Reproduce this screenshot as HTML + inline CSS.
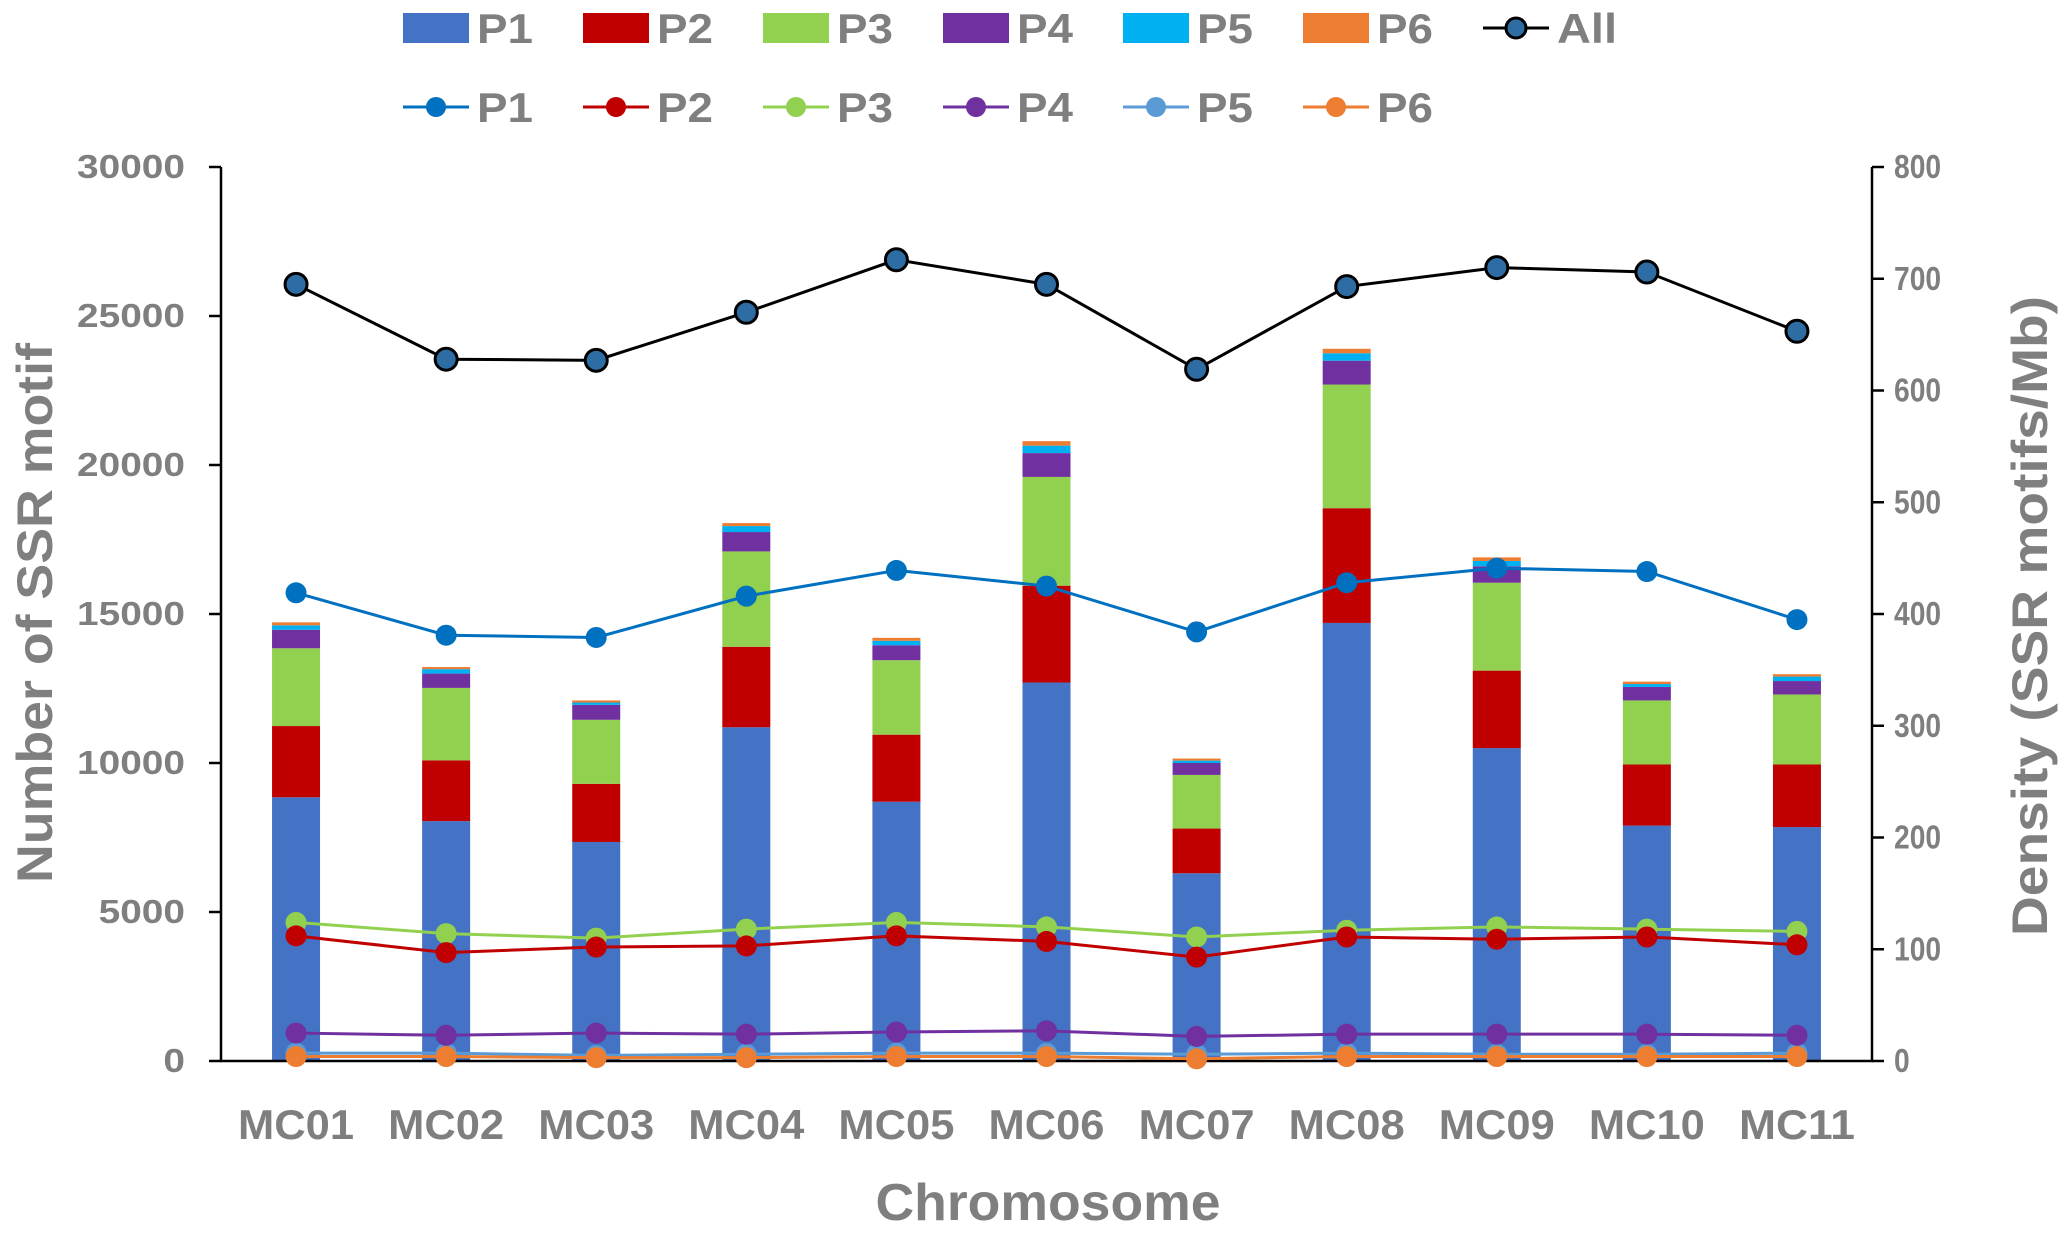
<!DOCTYPE html>
<html><head><meta charset="utf-8"><style>
body{margin:0;background:#fff}
svg{display:block}
text{font-family:"Liberation Sans",sans-serif;font-weight:bold;fill:#7f7f7f}
</style></head><body>
<svg id="chart" width="2067" height="1233" viewBox="0 0 2067 1233"></svg>
<script>
const categories=["MC01","MC02","MC03","MC04","MC05","MC06","MC07","MC08","MC09","MC10","MC11"];
const barP1=[8850,8050,7350,11200,8700,12700,6300,14700,10500,7900,7850];
const barP2=[2390,2040,1950,2700,2250,3250,1500,3850,2600,2050,2100];
const barP3=[2610,2430,2150,3200,2500,3650,1800,4150,2950,2150,2350];
const barP4=[620,480,500,650,500,800,400,800,550,450,450];
const barP5=[150,150,80,200,150,250,80,250,180,100,150];
const barP6=[100,70,70,100,100,150,70,150,120,80,80];
const densAll=[695,628,627,670,717,695,619,693,710,706,653];
const densP1=[419,381,379,416,439,425,384,428,441,438,395];
const densP2=[112,97,102,103,112,107,93,111,109,111,104];
const densP3=[124,114,110,118,124,120,111,117,120,118,116];
const densP4=[25,23,25,24,26,27,22,24,24,24,23];
const densP5=[7,7,5,6,7,7,6,7,6,6,7];
const densP6=[4,4,3,3,4,4,2,4,4,4,4];
const leftTicks=[0,5000,10000,15000,20000,25000,30000];
const rightTicks=[0,100,200,300,400,500,600,700,800];

const NS="http://www.w3.org/2000/svg";
const svg=document.getElementById('chart');
const X0=221,X1=1872,Y0=1061,Y1=167;
const step=(X1-X0)/categories.length;
const xc=i=>X0+step*(i+0.5);
const yL=v=>Y0-(Y0-Y1)*v/30000;
const yR=v=>Y0-(Y0-Y1)*v/800;
function mk(tag,attrs,parent){const e=document.createElementNS(NS,tag);for(const k in attrs)e.setAttribute(k,attrs[k]);(parent||svg).appendChild(e);return e;}
const barCols=["#4472c4","#c00000","#92d050","#7030a0","#00b0f0","#ed7d31"];
const lineCols=["#0070c0","#c00000","#92d050","#7030a0","#5b9bd5","#ed7d31"];
const bars=[barP1,barP2,barP3,barP4,barP5,barP6];
const dens=[densP1,densP2,densP3,densP4,densP5,densP6];

categories.forEach((c,i)=>{
  let acc=0;
  bars.forEach((s,k)=>{
    const r=mk('rect',{x:xc(i)-24,y:yL(acc+s[i]),width:48,height:yL(acc)-yL(acc+s[i]),fill:barCols[k]});
    
    
    acc+=s[i];
  });
});
const ax=mk('path',{d:`M${X0},${Y1}V${Y0}H${X1}V${Y1}`,fill:'none',stroke:'#000','stroke-width':2.5});


leftTicks.forEach(v=>{
  mk('line',{x1:X0-12,x2:X0,y1:yL(v),y2:yL(v),stroke:'#000','stroke-width':2.5});
  const t=mk('text',{x:185,y:yL(v)+11,'text-anchor':'end','font-size':33,textLength:String(v).length*21.6,lengthAdjust:'spacingAndGlyphs'});t.textContent=v;
  
  
});
rightTicks.forEach(v=>{
  mk('line',{x1:X1,x2:X1+12,y1:yR(v),y2:yR(v),stroke:'#000','stroke-width':2.5});
  const t=mk('text',{x:1894,y:yR(v)+11,'font-size':33,textLength:String(v).length*15.7,lengthAdjust:'spacingAndGlyphs'});t.textContent=v;
  
  
});
categories.forEach((c,i)=>{
  const t=mk('text',{x:xc(i),y:1139,'text-anchor':'middle','font-size':42,textLength:116,lengthAdjust:'spacingAndGlyphs'});t.textContent=c;
  
  
});
function drawLine(arr,col,r,stroke,name){
  const g=mk('g',{});
  
  
  mk('polyline',{points:arr.map((v,i)=>xc(i)+','+yR(v)).join(' '),fill:'none',stroke:stroke||col,'stroke-width':3},g);
  arr.forEach((v,i)=>mk('circle',{cx:xc(i),cy:yR(v),r:r,fill:col,stroke:stroke||'none','stroke-width':stroke?3:0},g));
}
[4,5,3,2,1,0].forEach(k=>drawLine(dens[k],lineCols[k],10.5,null,'density-line-p'+(k+1)));
drawLine(densAll,'#2e6da4',11,'#000','density-line-all');
let t=mk('text',{x:1048,y:1220,'text-anchor':'middle','font-size':52,textLength:345,lengthAdjust:'spacingAndGlyphs'});t.textContent='Chromosome';


t=mk('text',{transform:'translate(52,613) rotate(-90)','text-anchor':'middle','font-size':50,textLength:540,lengthAdjust:'spacingAndGlyphs'});t.textContent='Number of SSR motif';


t=mk('text',{transform:'translate(2047,616) rotate(-90)','text-anchor':'middle','font-size':50,textLength:640,lengthAdjust:'spacingAndGlyphs'});t.textContent='Density (SSR motifs/Mb)';


const names=["P1","P2","P3","P4","P5","P6"];
names.forEach((n,k)=>{
  const x=403+k*180;
  const g1=mk('g',{});
  
  
  mk('rect',{x:x,y:13,width:66,height:30,fill:barCols[k]},g1);
  const a=mk('text',{x:x+74,y:43,'font-size':42,textLength:56,lengthAdjust:'spacingAndGlyphs'},g1);a.textContent=n;
  const g2=mk('g',{});
  
  
  mk('line',{x1:x,x2:x+66,y1:107,y2:107,stroke:lineCols[k],'stroke-width':3},g2);
  mk('circle',{cx:x+33,cy:107,r:10,fill:lineCols[k]},g2);
  const b=mk('text',{x:x+74,y:122,'font-size':42,textLength:56,lengthAdjust:'spacingAndGlyphs'},g2);b.textContent=n;
});
const gA=mk('g',{});


mk('line',{x1:1483,x2:1549,y1:28,y2:28,stroke:'#000','stroke-width':3},gA);
mk('circle',{cx:1516,cy:28,r:10,fill:'#2e6da4',stroke:'#000','stroke-width':3},gA);
const ta=mk('text',{x:1557,y:43,'font-size':42,textLength:60,lengthAdjust:'spacingAndGlyphs'},gA);ta.textContent='All';
</script>
</body></html>
